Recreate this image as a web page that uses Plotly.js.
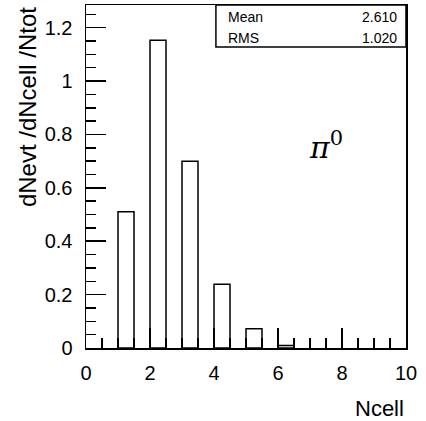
<!DOCTYPE html>
<html>
<head>
<meta charset="utf-8">
<script src="https://cdn.plot.ly/plotly-3.0.1.min.js"></script>
<style>html,body{margin:0;padding:0;background:#fff;}#chart{width:426px;height:421px;}</style>
</head>
<body>
<div id="chart"></div>
<script>
// Histogram bins (lower edges) and normalized heights
const binLow = [1, 2, 3, 4, 5, 6];
const binWidth = 0.5;
const values = [0.51, 1.153, 0.70, 0.239, 0.072, 0.009];
const statLabels = ["Mean", "RMS"];
const statValues = ["2.610", "1.020"];
const xTickVals = [0, 2, 4, 6, 8, 10];
const yTickVals = [0, 0.2, 0.4, 0.6, 0.8, 1, 1.2];
const yTickText = ["0", "0.2", "0.4", "0.6", "0.8", "1", "1.2"];

const FONT = "Liberation Sans, Arial, Helvetica, sans-serif";

const trace = {
  type: "bar",
  x: binLow,
  y: values,
  width: binLow.map(() => binWidth),
  offset: 0,
  marker: { color: "rgba(255,255,255,0)", line: { color: "#000", width: 1.5 } },
  hoverinfo: "skip"
};

const annotations = [];
statLabels.forEach((lab, i) => {
  const yy = i === 0 ? 0.965 : 0.904;
  annotations.push({ xref: "paper", yref: "paper", x: 0.437, y: yy, text: lab, showarrow: false,
    xanchor: "left", yanchor: "middle", font: { family: FONT, size: 14, color: "#000" } });
  annotations.push({ xref: "paper", yref: "paper", x: 0.978, y: yy, text: statValues[i], showarrow: false,
    xanchor: "right", yanchor: "middle", font: { family: FONT, size: 14, color: "#000" } });
});
annotations.push({ xref: "paper", yref: "paper", x: 0.69, y: 0.59, text: "<i>π</i><sup>0</sup>", showarrow: false,
  xanchor: "left", yanchor: "middle", font: { family: "DejaVu Serif, serif", size: 30, color: "#000" } });
annotations.push({ xref: "paper", yref: "paper", x: -0.184, y: 1.0, text: "dNevt /dNcell /Ntot", showarrow: false,
  textangle: -90, xanchor: "center", yanchor: "top", font: { family: FONT, size: 24, color: "#000" } });
annotations.push({ xref: "paper", yref: "paper", x: 1.0, y: -0.135, text: "Ncell", showarrow: false,
  xanchor: "right", yanchor: "top", font: { family: FONT, size: 22, color: "#000" } });

const layout = {
  width: 426, height: 421,
  margin: { l: 86, r: 20, t: 5, b: 73 },
  paper_bgcolor: "#fff", plot_bgcolor: "#fff",
  showlegend: false,
  font: { family: FONT, color: "#000" },
  xaxis: {
    range: [0, 10], showgrid: false, zeroline: false,
    showline: true, linecolor: "#000", linewidth: 1.5, mirror: true,
    ticks: "inside", ticklen: 20, tickwidth: 1.5, tickcolor: "#000",
    tickmode: "array", tickvals: xTickVals,
    tickfont: { family: FONT, size: 20, color: "#000" },
    ticklabelstandoff: 6,
    minor: { ticks: "inside", ticklen: 10, tickwidth: 1.5, tickcolor: "#000", dtick: 0.5, showgrid: false }
  },
  yaxis: {
    range: [0, 1.285], showgrid: false, zeroline: false,
    showline: true, linecolor: "#000", linewidth: 1.5, mirror: true,
    ticks: "inside", ticklen: 20, tickwidth: 1.5, tickcolor: "#000",
    tickmode: "array", tickvals: yTickVals, ticktext: yTickText,
    tickfont: { family: FONT, size: 20, color: "#000" },
    ticklabelstandoff: 8,
    minor: { ticks: "inside", ticklen: 10, tickwidth: 1.5, tickcolor: "#000", dtick: 0.05, showgrid: false }
  },
  shapes: [{
    type: "rect", xref: "paper", yref: "paper", x0: 0.406, x1: 1, y0: 0.8776, y1: 1,
    line: { color: "#000", width: 1.5 }, fillcolor: "rgba(0,0,0,0)"
  }],
  annotations: annotations
};

Plotly.newPlot("chart", [trace], layout, { staticPlot: true, displayModeBar: false });
</script>
</body>
</html>
